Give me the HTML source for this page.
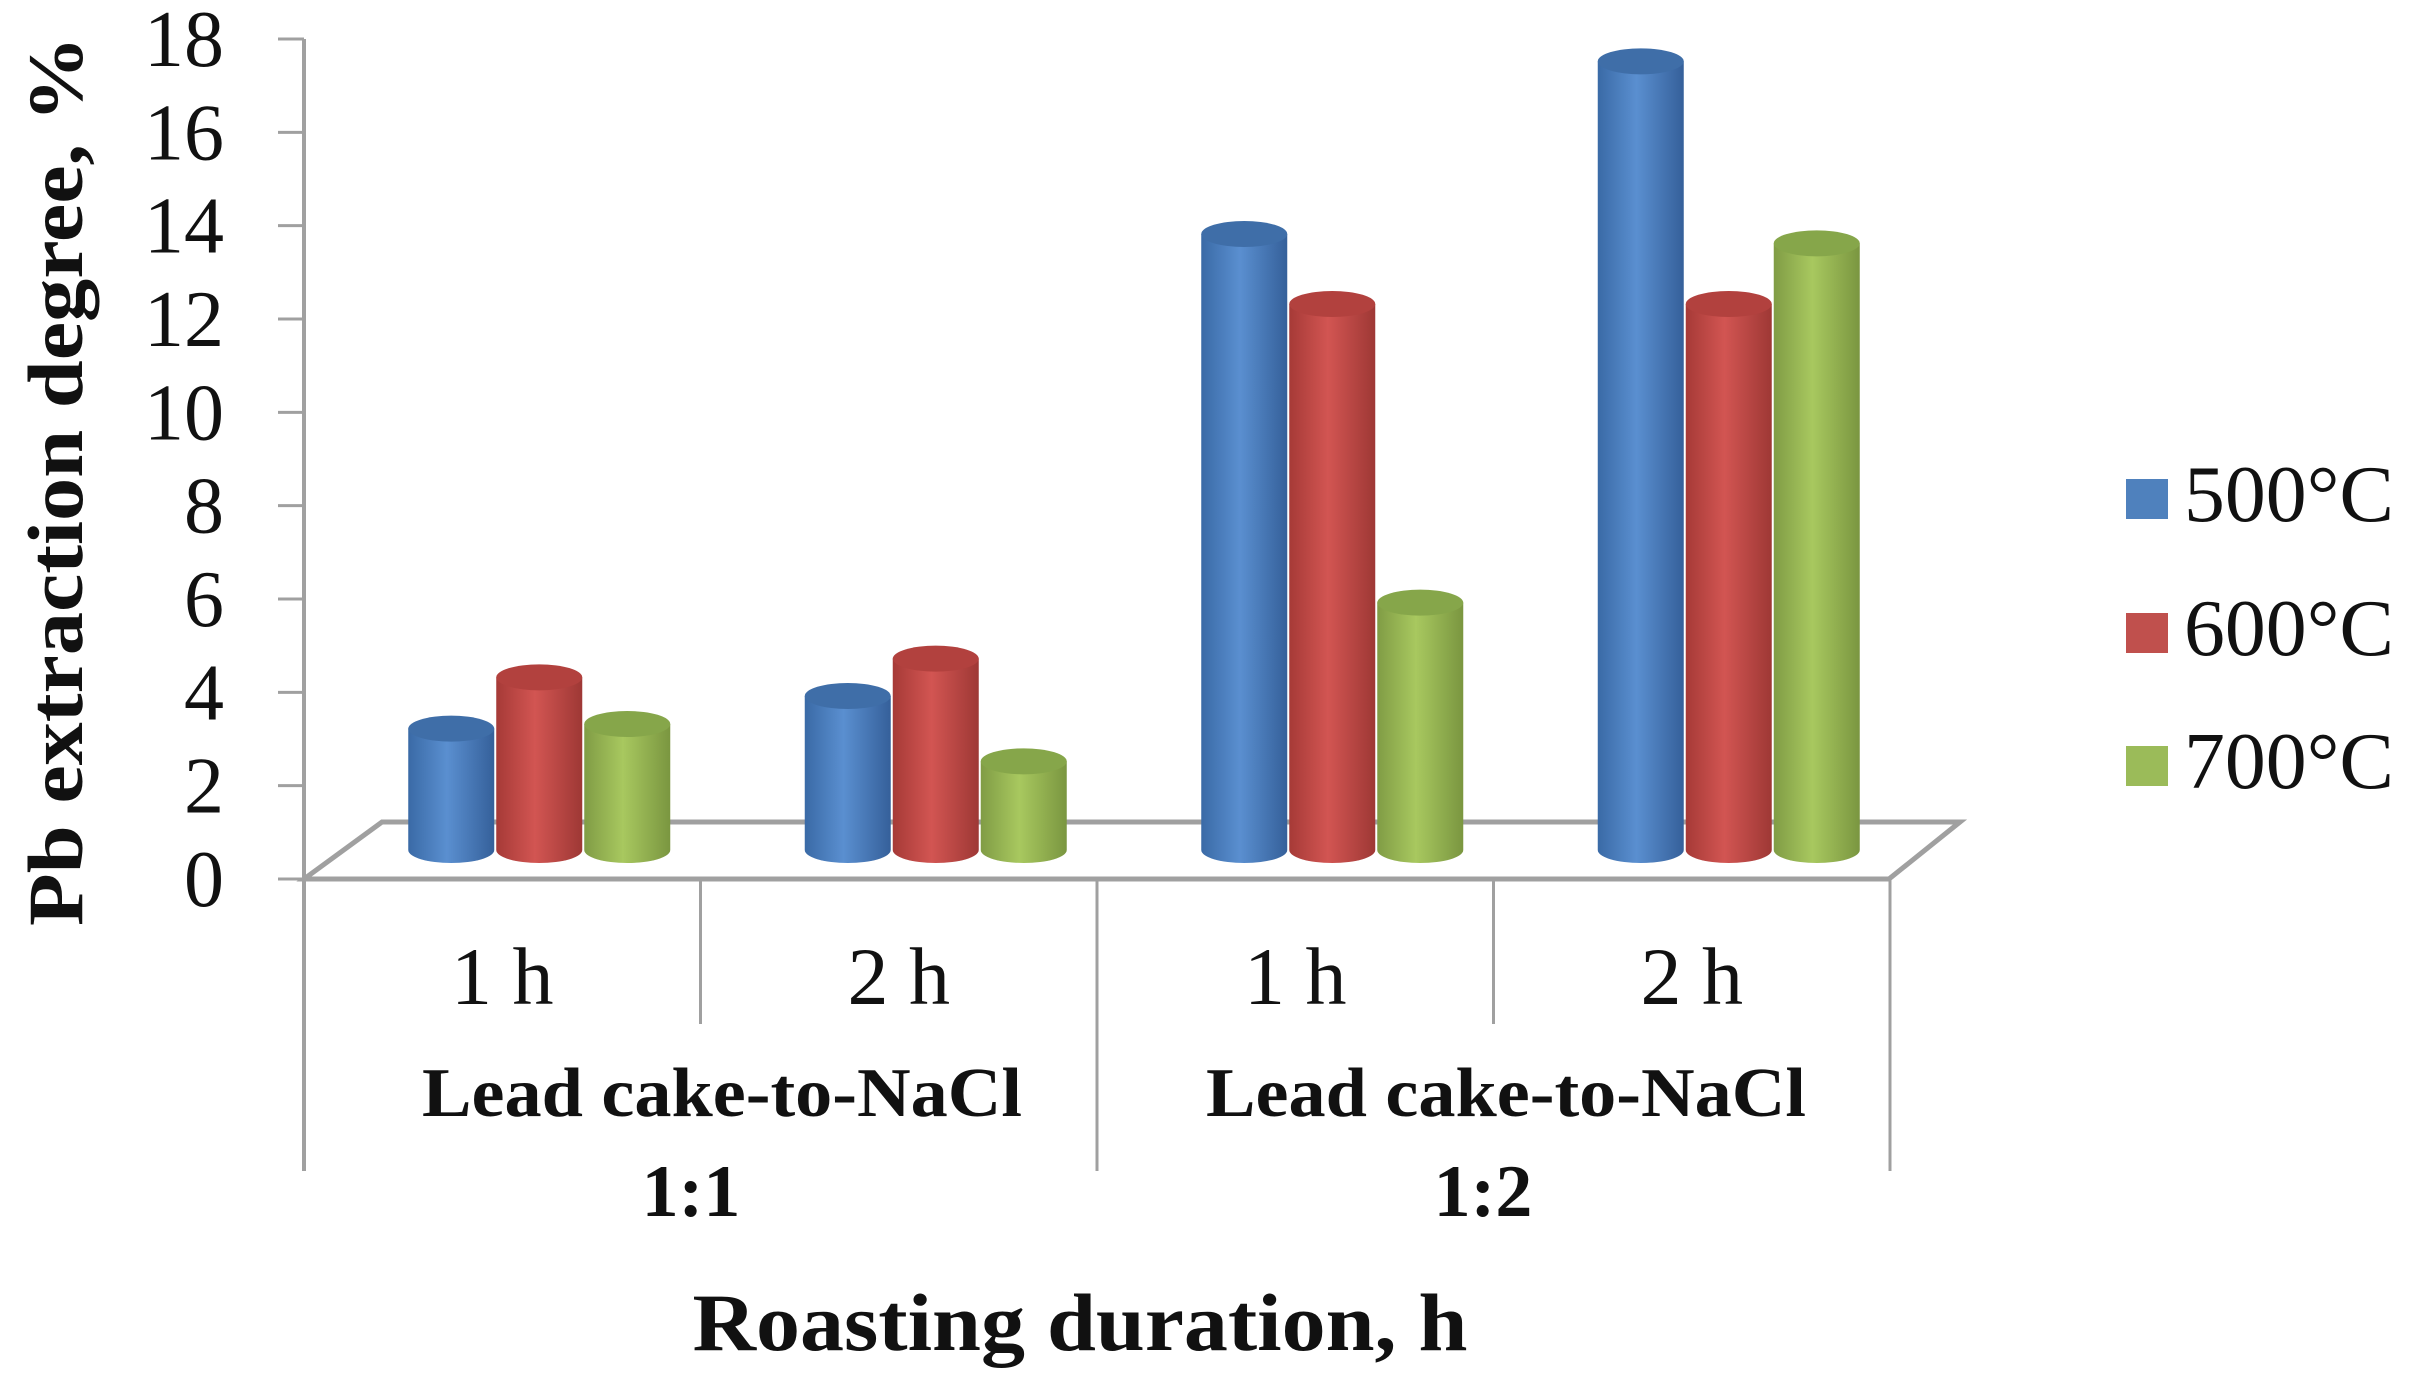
<!DOCTYPE html>
<html><head><meta charset="utf-8"><style>
html,body{margin:0;padding:0;background:#fff;}
svg{display:block;}
text{font-family:"Liberation Serif",serif;fill:#111;}
</style></head><body>
<svg id="chart" width="2410" height="1395" viewBox="0 0 2410 1395" xmlns="http://www.w3.org/2000/svg">
<defs>
<linearGradient id="g0" x1="0" x2="1"><stop offset="0" stop-color="#3a6aa6"/><stop offset="0.45" stop-color="#5a8fd0"/><stop offset="1" stop-color="#35609a"/></linearGradient>
<linearGradient id="g1" x1="0" x2="1"><stop offset="0" stop-color="#a63a37"/><stop offset="0.45" stop-color="#d25552"/><stop offset="1" stop-color="#9e3835"/></linearGradient>
<linearGradient id="g2" x1="0" x2="1"><stop offset="0" stop-color="#809c45"/><stop offset="0.45" stop-color="#a8c85f"/><stop offset="1" stop-color="#7a9640"/></linearGradient>
</defs>
<g id="axes"></g>
<g id="bars"></g>
<g id="labels"></g>
</svg>
<script>
const categories = ["1 h", "2 h", "1 h", "2 h"];
const groups = ["1:1", "1:2"];
const seriesNames = ["500°C", "600°C", "700°C"];
const s500 = [2.6, 3.3, 13.2, 16.9];
const s600 = [3.7, 4.1, 11.7, 11.7];
const s700 = [2.7, 1.9, 5.3, 13.0];
const yTicks = [0, 2, 4, 6, 8, 10, 12, 14, 16, 18];

const NS = "http://www.w3.org/2000/svg";
const series = [s500, s600, s700];
const colors = ["#4F81BD", "#C0504D", "#9BBB59"];
const tops = ["#3f6ea8", "#b2413e", "#86a64a"];
const axisX = 304, y0 = 879, yTop = 39, catW = 396.5, baseY = 850;
const yScale = v => y0 - (v / 18) * (y0 - yTop);
const barTop = v => baseY - (v / 18) * (y0 - yTop);
const catX = i => axisX + catW * (i + 0.5);
const offs = [-51, 37, 125];
const bw = 86, ry = 13;

function mk(tag, attrs, parent) {
  const e = document.createElementNS(NS, tag);
  for (const k in attrs) e.setAttribute(k, attrs[k]);
  parent.appendChild(e);
  return e;
}
const axes = document.getElementById('axes');
const bars = document.getElementById('bars');
const labels = document.getElementById('labels');
const grey = "#a0a0a0";
const floor = mk('polygon', {points: `${axisX},${y0} 382,822 1960,822 1889,${y0}`, fill: "none", stroke: grey, "stroke-width": 5}, axes);


const yAxis = mk('line', {x1: axisX, y1: yTop, x2: axisX, y2: 1171, stroke: grey, "stroke-width": 4}, axes);


yTicks.forEach(t => {
  const y = yScale(t);
  const tk = mk('line', {x1: 278, y1: y, x2: axisX, y2: y, stroke: grey, "stroke-width": 3}, axes);
  
  
  const tl = mk('text', {x: 224, y: y + 27, "text-anchor": "end", "font-size": 80}, labels);
  tl.textContent = t;
  
  
});
for (let i = 1; i <= 4; i++) {
  const x = axisX + catW * i;
  const long = (i % 2 === 0);
  const d = mk('line', {x1: x, y1: y0, x2: x, y2: long ? 1171 : 1024, stroke: grey, "stroke-width": 3}, axes);
  
  
}
categories.forEach((c, i) => {
  series.forEach((s, j) => {
    const cx = catX(i) + offs[j];
    const x = cx - bw / 2;
    const ty = barTop(s[i]);
    const g = mk('g', {}, bars);
    
    
    mk('path', {d: `M${x},${ty} L${x},${baseY} A${bw/2},${ry} 0 0 0 ${x+bw},${baseY} L${x+bw},${ty} Z`, fill: `url(#g${j})`}, g);
    mk('ellipse', {cx: cx, cy: ty, rx: bw / 2, ry: ry, fill: tops[j]}, g);
  });
  const cl = mk('text', {x: catX(i), y: 1004, "text-anchor": "middle", "font-size": 82}, labels);
  cl.textContent = c;
  
  
});
groups.forEach((g, k) => {
  const gl = mk('text', {x: [722, 1506][k], y: 1116, "text-anchor": "middle", "font-size": 70, "font-weight": "bold", "textLength": 600, "lengthAdjust": "spacingAndGlyphs"}, labels);
  gl.textContent = "Lead cake-to-NaCl";
  
  
  const gr = mk('text', {x: [691, 1483][k], y: 1216, "text-anchor": "middle", "font-size": 74, "font-weight": "bold"}, labels);
  gr.textContent = g;
  
  
});
const xt = mk('text', {x: 1080, y: 1350, "text-anchor": "middle", "font-size": 82, "font-weight": "bold", "textLength": 775, "lengthAdjust": "spacingAndGlyphs"}, labels);
xt.textContent = "Roasting duration, h";


const yt = mk('text', {x: 0, y: 0, transform: "translate(82,481) rotate(-90)", "text-anchor": "middle", "font-size": 78, "font-weight": "bold", "textLength": 890, "lengthAdjust": "spacingAndGlyphs"}, labels);
yt.textContent = "Pb extraction degree, %";


seriesNames.forEach((n, j) => {
  const base = [521, 655, 788][j];
  const g = mk('g', {}, labels);
  
  
  mk('rect', {x: 2126, y: base - 42, width: 42, height: 40, fill: colors[j]}, g);
  const t = mk('text', {x: 2184, y: base, "font-size": 80, "textLength": 210, "lengthAdjust": "spacingAndGlyphs"}, g);
  t.textContent = n;
});
</script>
</body></html>
